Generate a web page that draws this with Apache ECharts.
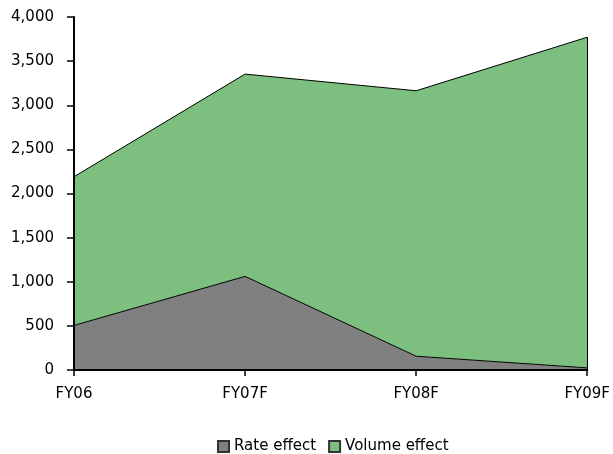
<!DOCTYPE html>
<html>
<head>
<meta charset="utf-8">
<script src="https://cdn.jsdelivr.net/npm/echarts@6/dist/echarts.min.js"></script>
<style>
  html, body { margin: 0; padding: 0; background: #fff; }
  #chart { width: 613px; height: 454px; }
</style>
</head>
<body>
<div id="chart"></div>
<script>
// Fiscal years on the category axis
const categories = ['FY06', 'FY07F', 'FY08F', 'FY09F'];
// Stacked components
const rateEffect = [505, 1061, 156, 24];
const volumeEffect = [1685, 2292, 3008, 3747];
// Value axis range
const yMin = 0;
const yMax = 4000;
const yStep = 500;

const FONT = 'DejaVu Sans';
const FS = 15;

const lastIdx = categories.length - 1;
const lastTotal = rateEffect[lastIdx] + volumeEffect[lastIdx];

const chart = echarts.init(document.getElementById('chart'), null, { renderer: 'canvas' });

function areaSeries(name, data, color) {
  return {
    name: name,
    type: 'line',
    stack: 'total',
    z: 2,
    data: data,
    symbol: 'none',
    lineStyle: { color: '#000', width: 1 },
    areaStyle: { color: color, opacity: 1 },
    itemStyle: { color: color, borderColor: '#333', borderWidth: 1 },
    emphasis: { disabled: true }
  };
}

const volume = areaSeries('Volume effect', volumeEffect, '#7dbf7f');
// closing edge of the stacked area at the last category
volume.markLine = {
  silent: true,
  symbol: 'none',
  label: { show: false },
  lineStyle: { color: '#000', width: 1, type: 'solid' },
  data: [[
    { coord: [categories[lastIdx], 0] },
    { coord: [categories[lastIdx], lastTotal] }
  ]]
};

chart.setOption({
  animation: false,
  textStyle: { fontFamily: FONT },
  grid: { left: 74, right: 25, top: 17, bottom: 84, containLabel: false },
  xAxis: {
    type: 'category',
    data: categories,
    boundaryGap: false,
    z: 10,
    axisLine: { lineStyle: { color: '#000', width: 2 } },
    axisTick: { show: true, length: 6, lineStyle: { color: '#000', width: 1.5 }, alignWithLabel: true },
    axisLabel: { color: '#000', fontSize: FS, fontFamily: FONT, margin: 17 },
    splitLine: { show: false }
  },
  yAxis: {
    type: 'value',
    min: yMin,
    max: yMax,
    interval: yStep,
    z: 10,
    axisLine: { show: true, lineStyle: { color: '#000', width: 2 } },
    axisTick: { show: true, length: 7, lineStyle: { color: '#000', width: 1.5 } },
    axisLabel: {
      color: '#000', fontSize: FS, fontFamily: FONT, margin: 20,
      formatter: v => v.toLocaleString('en-US')
    },
    splitLine: { show: false }
  },
  legend: {
    top: 434,
    left: 212,
    itemWidth: 11,
    itemHeight: 11,
    itemGap: 12,
    icon: 'rect',
    textStyle: { color: '#000', fontSize: FS, fontFamily: FONT },
    data: ['Rate effect', 'Volume effect']
  },
  series: [
    areaSeries('Rate effect', rateEffect, '#808080'),
    volume
  ]
});
</script>
</body>
</html>
